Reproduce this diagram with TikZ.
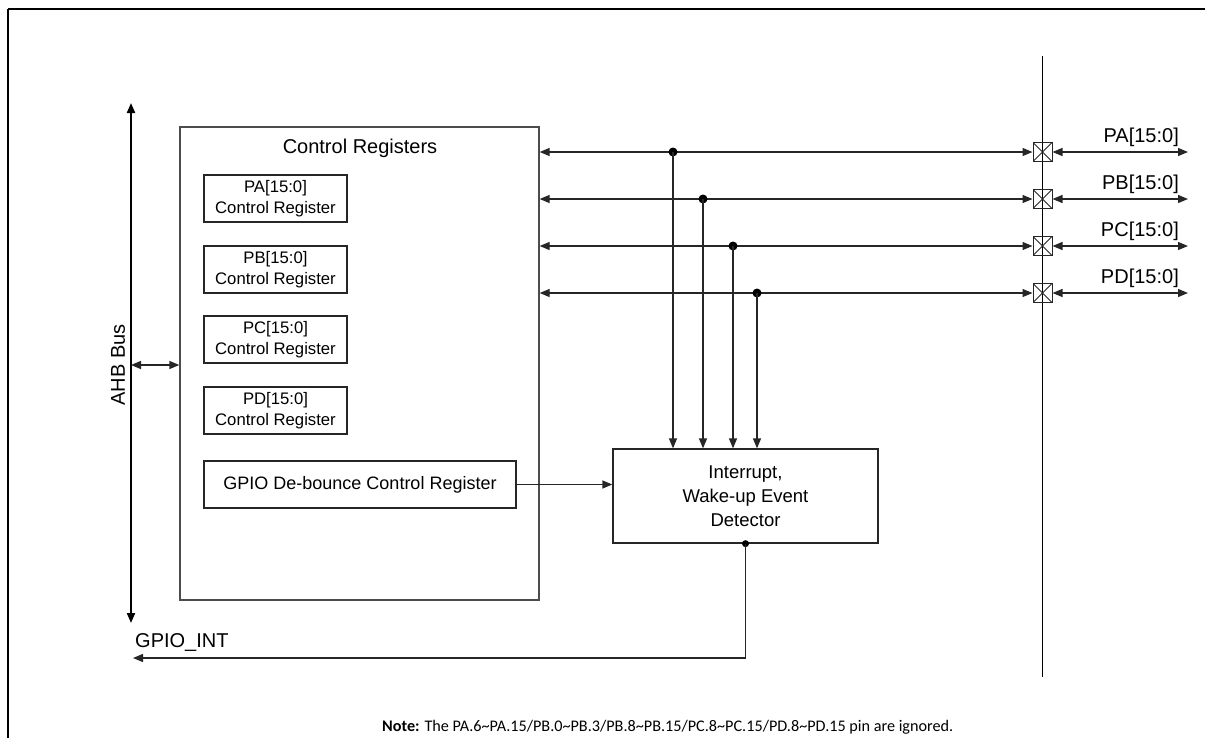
\documentclass[tikz,border=0pt]{standalone}
\usepackage{fontspec}
\setmainfont{Liberation Sans}
\newfontfamily\notefont{Carlito}
\usetikzlibrary{arrows.meta}

\tikzset{
  tri/.tip={Triangle[length=10pt,width=8pt]},
  wire/.style={line width=1.3pt, draw=black!85},
  biwire/.style={wire, tri-tri},
  onewire/.style={wire, -tri},
  frame/.style={draw=black!70, line width=1.3pt},
  regbox/.style={draw=black!85, line width=1.1pt, minimum width=143pt, minimum height=47pt,
    align=center, inner sep=0pt, font=\fontsize{16.7}{20.5}\selectfont},
  padbox/.style={draw=black!85, line width=1pt, minimum size=19pt, inner sep=0pt,
    path picture={\draw[black!85, line width=0.8pt]
      (path picture bounding box.north west) -- (path picture bounding box.south east)
      (path picture bounding box.south west) -- (path picture bounding box.north east);}},
  junction/.style={circle, fill=black, inner sep=0pt, minimum size=9pt},
  portlabel/.style={anchor=base east, inner sep=0pt, font=\fontsize{20}{24}\selectfont},
}

\begin{document}
\begin{tikzpicture}[x=1pt, y=-1pt]
  \useasboundingbox (0,0) rectangle (1205,737);
  % outer frame, running off the page at right and bottom
  \begin{scope}
    \clip (0,0) rectangle (1205,737);
    \draw[line width=2.2pt] (8,9) -- (1260,9);
    \draw[line width=2.2pt] (8,9) -- (8,790);
  \end{scope}

  % register block
  \node[frame, minimum width=359pt, minimum height=473pt, inner sep=0pt] (ctrl) at (359.5,363.5) {};
  \node[font=\fontsize{20}{24}\selectfont, inner sep=0pt] (ctitle) at (360,148) {Control Registers};
  \node[regbox] (rA) at (275.5,198.5) {PA[15:0]\\Control Register};
  \node[regbox] (rB) at (275.5,269.5) {PB[15:0]\\Control Register};
  \node[regbox] (rC) at (275.5,339.5) {PC[15:0]\\Control Register};
  \node[regbox] (rD) at (275.5,410.5) {PD[15:0]\\Control Register};
  \node[regbox, minimum width=312pt, font=\fontsize{18}{22}\selectfont] (deb) at (360,484.5) {GPIO De-bounce Control Register};

  % detector
  \node[frame, draw=black!85, minimum width=265pt, minimum height=94pt, inner sep=0pt, align=center,
        font=\fontsize{18.5}{24}\selectfont] (det) at (745.5,496) {Interrupt,\\Wake-up Event\\Detector};

  % AHB bus
  \coordinate (busT) at (131,103);
  \coordinate (busB) at (131,623);
  \draw[line width=2pt, tri-tri] (busT) -- (busB);
  \node[rotate=90, font=\fontsize{20}{24}\selectfont, inner sep=0pt] (ahb) at (118,365) {AHB Bus};
  \coordinate (busC) at (131,365);
  \draw[biwire] (busC) -- (busC -| ctrl.west);

  % pin boundary
  \coordinate (pinT) at (1042.5,56);
  \coordinate (pinB) at (1042.5,677);
  \draw[line width=1.3pt] (pinT) -- (pinB);

  \node[padbox] (xA) at (1042.5,152) {};
  \node[padbox] (xB) at (1042.5,199) {};
  \node[padbox] (xC) at (1042.5,246) {};
  \node[padbox] (xD) at (1042.5,293) {};

  % port buses
  \draw[biwire] (ctrl.east |- xA) -- (xA.west);
  \draw[biwire] (ctrl.east |- xB) -- (xB.west);
  \draw[biwire] (ctrl.east |- xC) -- (xC.west);
  \draw[biwire] (ctrl.east |- xD) -- (xD.west);

  \coordinate (pA) at (1188,152);
  \coordinate (pB) at (1188,199);
  \coordinate (pC) at (1188,246);
  \coordinate (pD) at (1188,293);
  \draw[biwire] (xA.east) -- (pA);
  \draw[biwire] (xB.east) -- (pB);
  \draw[biwire] (xC.east) -- (pC);
  \draw[biwire] (xD.east) -- (pD);

  \node[portlabel] (lA) at (1179,142) {PA[15:0]};
  \node[portlabel] (lB) at (1179,189) {PB[15:0]};
  \node[portlabel] (lC) at (1179,236) {PC[15:0]};
  \node[portlabel] (lD) at (1179,283) {PD[15:0]};

  % taps into the detector
  \node[junction] (jA) at (673,152) {};
  \node[junction] (jB) at (703,199) {};
  \node[junction] (jC) at (733,246) {};
  \node[junction] (jD) at (757,293) {};
  \draw[onewire] (jA.center) -- (jA.center |- det.north);
  \draw[onewire] (jB.center) -- (jB.center |- det.north);
  \draw[onewire] (jC.center) -- (jC.center |- det.north);
  \draw[onewire] (jD.center) -- (jD.center |- det.north);

  % de-bounce control
  \draw[onewire] (deb.east) -- (det.west |- deb.east);

  % interrupt output
  \node[junction, minimum size=7pt] (jo) at (det.south) {};
  \coordinate (intEnd) at (133,658);
  \draw[onewire] (jo.center) |- (intEnd);
  \node[anchor=base west, inner sep=0pt, font=\fontsize{20}{24}\selectfont] (intl) at (135,647) {GPIO\_INT};

  % footnote
  \node[anchor=base west, inner sep=0pt, font=\notefont\fontsize{16.2}{19}\selectfont] (note) at (382,731)
    {\textbf{Note:} The PA.6\textasciitilde PA.15/PB.0\textasciitilde PB.3/PB.8\textasciitilde PB.15/PC.8\textasciitilde PC.15/PD.8\textasciitilde PD.15 pin are ignored.};
\end{tikzpicture}
\end{document}
